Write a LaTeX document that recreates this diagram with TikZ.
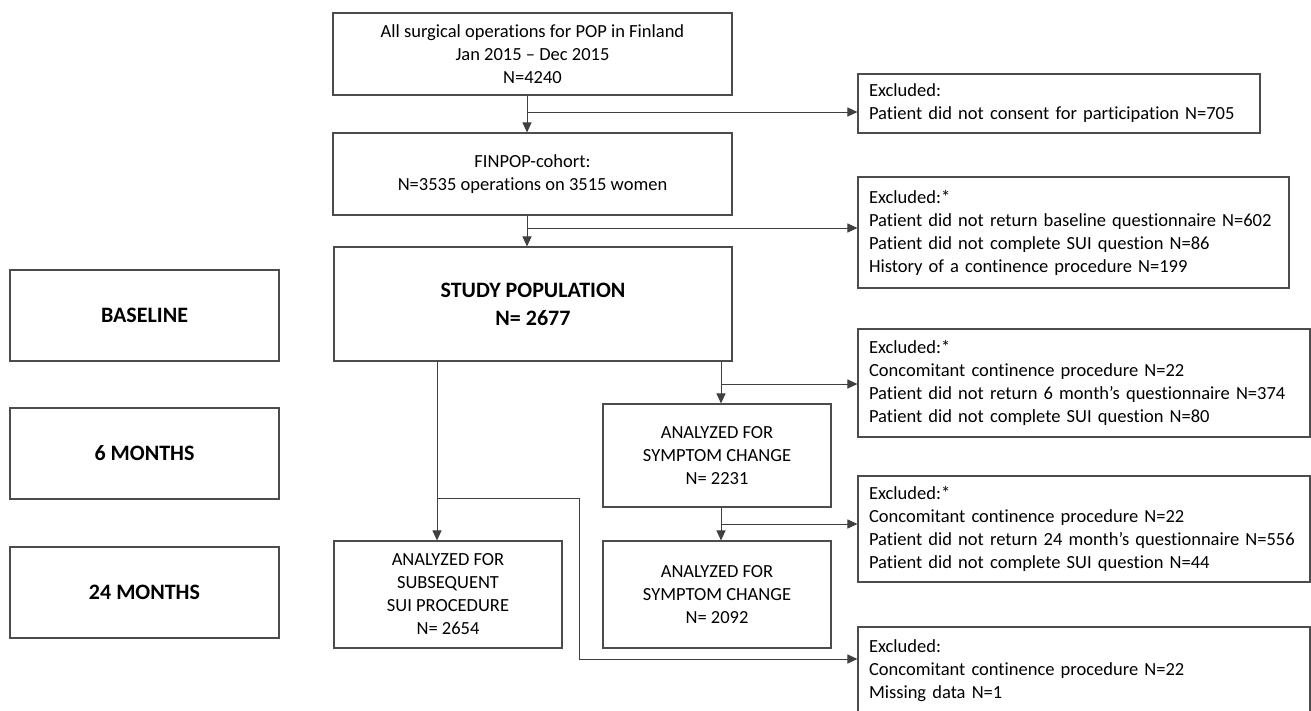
\documentclass[tikz,border=0pt]{standalone}
\usepackage{fontspec}
\setmainfont[Ligatures=NoCommon]{Carlito}
\usetikzlibrary{arrows.meta}
\tikzset{
  flowbox/.style={draw=black!70, line width=1.1pt, align=center,
    inner sep=0pt, font=\fontsize{18.5}{23}\selectfont},
  exclbox/.style={draw=black!70, line width=1.1pt, align=left,
    inner xsep=11pt, inner ysep=0pt, font=\fontsize{18.5}{23}\selectfont},
  phasebox/.style={draw=black!70, line width=1.1pt, align=center,
    minimum width=269pt, minimum height=91pt,
    font=\fontsize{22}{26}\selectfont\bfseries},
  arr/.style={draw=black!75, line width=1pt,
    -{Triangle[length=10pt, width=9pt]}}
}
\begin{document}
\begin{tikzpicture}[x=1pt, y=-1pt]
  \useasboundingbox (0, 0) rectangle (1311, 710);
  \clip (0, 0) rectangle (1311, 710);
  % Phase labels on the left.
  \node[phasebox] (baseline) at (144.5, 315.5) {BASELINE};
  \node[phasebox] (sixmo) at (144.5, 453.5) {6 MONTHS};
  \node[phasebox] (twfourmo) at (144.5, 592.5) {24 MONTHS};
  % Main flow boxes.
  \node[flowbox, minimum width=399pt, minimum height=82pt] (allops)
    at (532.5, 54) {All surgical operations for POP in Finland\\
    Jan 2015 -- Dec 2015\\N=4240};
  \node[flowbox, minimum width=399pt, minimum height=82pt] (cohort)
    at (532.5, 174) {FINPOP-cohort:\\N=3535 operations on 3515 women};
  \node[flowbox, minimum width=398pt, minimum height=114pt,
    font=\fontsize{22}{28}\selectfont\bfseries] (studypop)
    at (533, 304) {STUDY POPULATION\\N= 2677};
  \node[flowbox, minimum width=228pt, minimum height=103pt] (symsix)
    at (717, 455.5) {ANALYZED FOR\\SYMPTOM CHANGE\\N= 2231};
  \node[flowbox, minimum width=228pt, minimum height=107pt] (symtwf)
    at (717, 594.5) {ANALYZED FOR\\SYMPTOM CHANGE\\N= 2092};
  \node[flowbox, minimum width=228pt, minimum height=107pt] (suiproc)
    at (448, 594.5) {ANALYZED FOR\\SUBSEQUENT\\SUI PROCEDURE\\N= 2654};
  % Exclusion boxes on the right.
  \node[exclbox, text width=380pt, minimum height=59pt] (exconsent)
    at (1059, 103.5) {Excluded:\\
    Patient did not consent for participation N=705};
  \node[exclbox, text width=409pt, minimum height=111pt] (exbase)
    at (1073.5, 232.5) {Excluded:*\\
    Patient did not return baseline questionnaire N=602\\
    Patient did not complete SUI question N=86\\
    History of a continence procedure N=199};
  \node[exclbox, text width=430pt, minimum height=108pt] (exsix)
    at (1084, 383) {Excluded:*\\
    Concomitant continence procedure N=22\\
    Patient did not return 6 month’s questionnaire N=374\\
    Patient did not complete SUI question N=80};
  \node[exclbox, text width=430pt, minimum height=106pt] (extwf)
    at (1084, 529) {Excluded:*\\
    Concomitant continence procedure N=22\\
    Patient did not return 24 month’s questionnaire N=556\\
    Patient did not complete SUI question N=44};
  \node[exclbox, text width=430pt, minimum height=88pt] (exsui)
    at (1084, 671) {Excluded:\\
    Concomitant continence procedure N=22\\
    Missing data N=1\\};
  % Junctions of the connectors.
  \coordinate (jconsent) at (527, 112);
  \coordinate (jbase) at (527, 228);
  \coordinate (jsix) at (721, 384);
  \coordinate (jtwf) at (721, 524);
  \coordinate (jsui) at (437, 498);
  \coordinate (jbend) at (579, 498);
  % Draw the connectors.
  \draw[arr] (allops.south -| jconsent) -- (cohort.north -| jconsent);
  \draw[arr] (jconsent) -- (jconsent -| exconsent.west);
  \draw[arr] (cohort.south -| jbase) -- (studypop.north -| jbase);
  \draw[arr] (jbase) -- (jbase -| exbase.west);
  \draw[arr] (studypop.south -| jsix) -- (symsix.north -| jsix);
  \draw[arr] (jsix) -- (jsix -| exsix.west);
  \draw[arr] (symsix.south -| jtwf) -- (symtwf.north -| jtwf);
  \draw[arr] (jtwf) -- (jtwf -| extwf.west);
  \draw[arr] (studypop.south -| jsui) -- (suiproc.north -| jsui);
  \draw[arr] (jsui) -- (jbend) -- (jbend |- 0, 659) -- (exsui.west |- 0, 659);
\end{tikzpicture}
\end{document}
